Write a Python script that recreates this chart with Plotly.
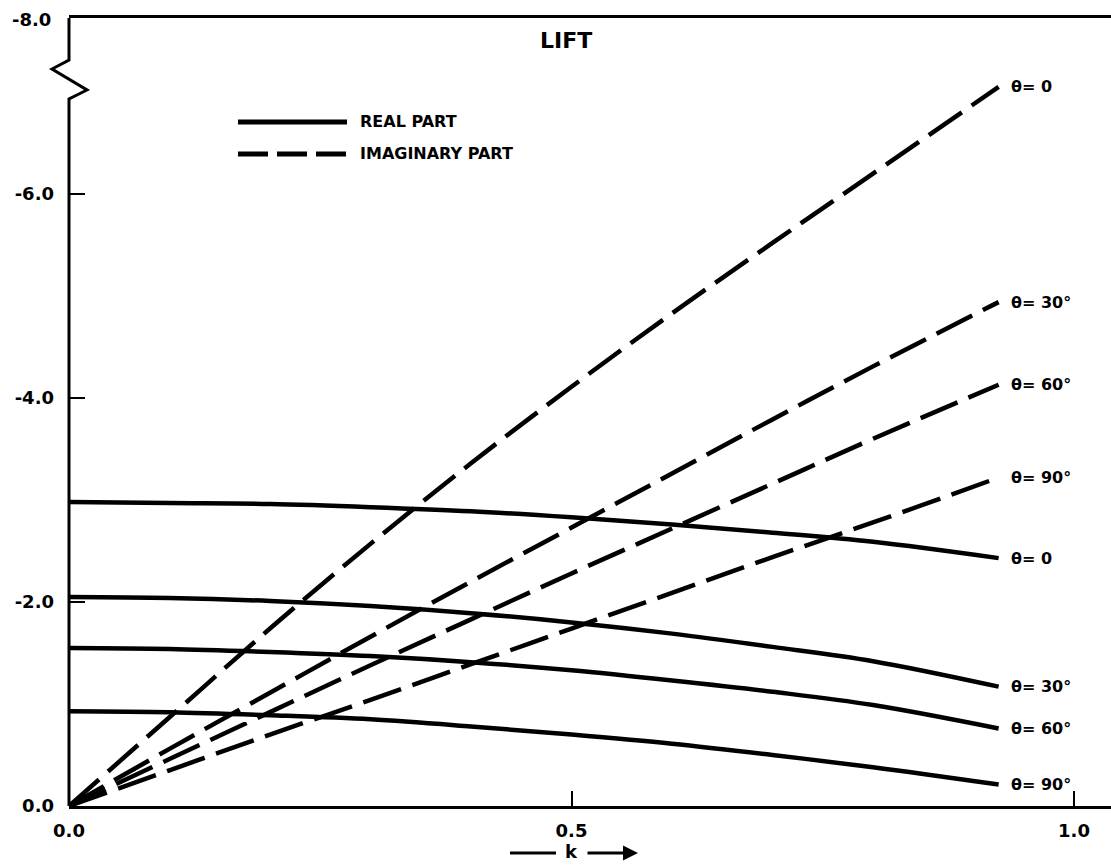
import plotly.graph_objects as go

# ---- data ----
k = [0.0, 0.1, 0.2, 0.3, 0.4, 0.5, 0.6, 0.7, 0.8, 0.925]

real_0 = [-2.98, -2.97, -2.96, -2.93, -2.89, -2.83, -2.76, -2.68, -2.59, -2.43]
real_30 = [-2.05, -2.04, -2.01, -1.96, -1.89, -1.80, -1.69, -1.56, -1.42, -1.17]
real_60 = [-1.55, -1.54, -1.51, -1.47, -1.41, -1.33, -1.23, -1.12, -0.99, -0.76]
real_90 = [-0.93, -0.92, -0.89, -0.85, -0.78, -0.70, -0.61, -0.50, -0.38, -0.21]

imag_0 = [0.0, -0.87, -1.74, -2.57, -3.36, -4.11, -4.83, -5.52, -6.20, -7.05]
imag_30 = [0.0, -0.56, -1.11, -1.66, -2.20, -2.73, -3.26, -3.79, -4.31, -4.94]
imag_60 = [0.0, -0.46, -0.92, -1.38, -1.83, -2.28, -2.72, -3.16, -3.60, -4.13]
imag_90 = [0.0, -0.35, -0.70, -1.04, -1.39, -1.74, -2.09, -2.44, -2.78, -3.22]

real_labels = ["θ= 0", "θ= 30°", "θ= 60°", "θ= 90°"]
imag_labels = ["θ= 0", "θ= 30°", "θ= 60°", "θ= 90°"]

x_tickvals = [0.0, 0.5, 1.0]
x_ticktext = ["0.0", "0.5", "1.0"]
y_tickvals = [0.0, -2.0, -4.0, -6.0]
y_ticktext = ["0.0", "-2.0", "-4.0", "-6.0"]

# ---- figure ----
W, H = 1111, 865
ML, MR, MT, MB = 69, 0, 18, 59
PW, PH = W - ML - MR, H - MT - MB


def px(p):
    return (p - ML) / PW


def py(p):
    return (H - MB - p) / PH


FONT = "DejaVu Sans"
LW = 4.5
DASH = "40px,12px"

fig = go.Figure()

reals = [real_0, real_30, real_60, real_90]
imags = [imag_0, imag_30, imag_60, imag_90]

for vals in reals:
    fig.add_trace(go.Scatter(x=k, y=vals, mode="lines",
                             line=dict(color="black", width=LW, shape="spline"),
                             showlegend=False, hoverinfo="skip"))
for vals in imags:
    fig.add_trace(go.Scatter(x=k, y=vals, mode="lines",
                             line=dict(color="black", width=LW, dash=DASH, shape="spline"),
                             showlegend=False, hoverinfo="skip"))

lab_font = dict(family=FONT, size=16, color="black", weight="bold")
annotations = []
for vals, lab in zip(reals, real_labels):
    annotations.append(dict(x=k[-1], y=vals[-1], xref="x", yref="y", text=lab,
                            showarrow=False, xanchor="left", xshift=10, font=lab_font))
for vals, lab in zip(imags, imag_labels):
    annotations.append(dict(x=k[-1], y=vals[-1], xref="x", yref="y", text=lab,
                            showarrow=False, xanchor="left", xshift=10, font=lab_font))

# title
annotations.append(dict(x=px(566), y=py(41), xref="paper", yref="paper", text="LIFT",
                        showarrow=False, xanchor="center", yanchor="middle",
                        font=dict(family=FONT, size=22, color="black", weight="bold")))
# legend texts
annotations.append(dict(x=px(358), y=py(122), xref="paper", yref="paper", text="REAL PART",
                        showarrow=False, xanchor="left", yanchor="middle", font=lab_font))
annotations.append(dict(x=px(358), y=py(154), xref="paper", yref="paper", text="IMAGINARY PART",
                        showarrow=False, xanchor="left", yanchor="middle", font=lab_font))
# broken-axis top label
annotations.append(dict(x=px(53), y=py(20), xref="paper", yref="paper", text="-8.0",
                        showarrow=False, xanchor="right", yanchor="middle",
                        font=dict(family=FONT, size=18, color="black", weight="bold")))
# k axis label with arrow
annotations.append(dict(x=px(571), y=py(852), xref="paper", yref="paper", text="k",
                        showarrow=False, xanchor="center", yanchor="middle",
                        font=dict(family=FONT, size=18, color="black", weight="bold")))
annotations.append(dict(x=px(638), y=py(853), xref="paper", yref="paper", text="",
                        showarrow=True, ax=-52, ay=0, arrowhead=2, arrowsize=1,
                        arrowwidth=3, arrowcolor="black"))

shapes = [
    # left axis with break
    dict(type="path", xref="paper", yref="paper",
         path=(f"M {px(69)},{py(806)} L {px(69)},{py(99)} L {px(87)},{py(90)} "
               f"L {px(52)},{py(69)} L {px(69)},{py(60)} L {px(69)},{py(18)}"),
         line=dict(color="black", width=3)),
    # legend samples
    dict(type="line", xref="paper", yref="paper", x0=px(238), x1=px(347), y0=py(122), y1=py(122),
         line=dict(color="black", width=5)),
    dict(type="line", xref="paper", yref="paper", x0=px(238), x1=px(347), y0=py(154), y1=py(154),
         line=dict(color="black", width=5, dash="30px,9px")),
    # k arrow tail
    dict(type="line", xref="paper", yref="paper", x0=px(510), x1=px(556), y0=py(853), y1=py(853),
         line=dict(color="black", width=3)),
]

fig.update_layout(
    width=W, height=H,
    margin=dict(l=ML, r=MR, t=MT, b=MB, pad=0),
    paper_bgcolor="white", plot_bgcolor="white",
    showlegend=False,
    annotations=annotations,
    shapes=shapes,
    xaxis=dict(range=[0, (W - ML) / 1005.0], tickvals=x_tickvals, ticktext=x_ticktext,
               ticks="inside", ticklen=15, tickwidth=2, tickcolor="black",
               showline=True, linewidth=3, linecolor="black", mirror=True,
               showgrid=False, zeroline=False, ticklabelstandoff=6,
               tickfont=dict(family=FONT, size=18, color="black", weight="bold")),
    yaxis=dict(range=[0, -(806 - 18) / 102.0], tickvals=y_tickvals, ticktext=y_ticktext,
               ticks="inside", ticklen=16, tickwidth=2, tickcolor="black",
               showline=False, showgrid=False, zeroline=False, ticklabelstandoff=14,
               tickfont=dict(family=FONT, size=18, color="black", weight="bold")),
)

fig.write_html("out.html")
